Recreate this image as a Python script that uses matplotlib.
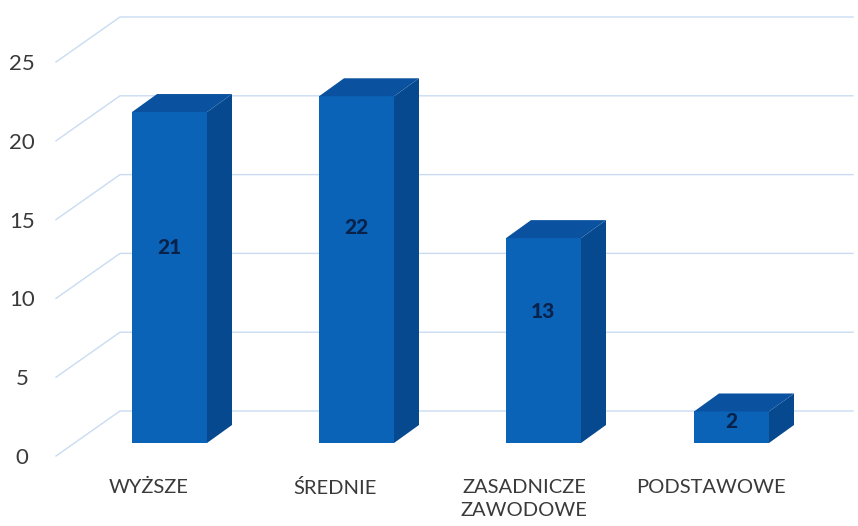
"""3D-style bar chart of education levels, drawn on a flat axes."""

import matplotlib
matplotlib.use('Agg')
import matplotlib.pyplot as plt
from matplotlib.patches import Polygon

# Data
categories = ['WYŻSZE', 'ŚREDNIE', 'ZASADNICZE\nZAWODOWE', 'PODSTAWOWE']
values = [21, 22, 13, 2]
y_ticks = [0, 5, 10, 15, 20, 25]

plt.rcParams['font.family'] = ['Lato', 'DejaVu Sans']

FRONT = '#0b63b7'
SIDE = '#07498f'
TOP = '#0a529f'
GRID = '#c9dcf2'
TEXT = '#3a3a3a'

fig = plt.figure(figsize=(8.58, 5.26), dpi=100)
ax = fig.add_axes([0, 0, 1, 1])

# pixel coordinates, y pointing down
ax.set_xlim(0, 858)
ax.set_ylim(526, 0)
ax.axis('off')

Y0 = 456
PX_PER_UNIT = 15.76
DX, DY = 64, 45  # depth offset of the back wall


def y_px(v):
    return Y0 - v * PX_PER_UNIT


# Wall gridlines
for t in y_ticks:
    y = y_px(t)
    ax.plot([56, 56 + DX, 853], [y, y - DY, y - DY], color=GRID, lw=1.0, zorder=1)
    ax.text(22, y + 2, str(t), ha='center', va='center', fontsize=16, color=TEXT)

# Bars
bar_w = 75
bar_dx, bar_dy = 25, 18
lefts = [132, 319, 506, 694]
base = 443
label_y = [247, 228, 312, 421]
cat_x = [149, 335, 524, 711]
for left, v, cat, ly, cx in zip(lefts, values, categories, label_y, cat_x):
    top = base - v * PX_PER_UNIT
    right = left + bar_w
    ax.add_patch(Polygon([(left, base), (right, base), (right, top), (left, top)],
                         facecolor=FRONT, edgecolor='none', zorder=3))
    ax.add_patch(Polygon([(right, base), (right + bar_dx, base - bar_dy),
                          (right + bar_dx, top - bar_dy), (right, top)],
                         facecolor=SIDE, edgecolor='none', zorder=3))
    ax.add_patch(Polygon([(left, top), (right, top),
                          (right + bar_dx, top - bar_dy), (left + bar_dx, top - bar_dy)],
                         facecolor=TOP, edgecolor='none', zorder=3))
    ax.text(left + 37, ly, str(v), ha='center', va='center', fontsize=15,
            fontweight='black', color='#08224a', zorder=4)
    ax.text(cx, 479, cat, ha='center', va='top', fontsize=14.5, color=TEXT,
            linespacing=1.4)

fig.savefig('out.png', dpi=100)
